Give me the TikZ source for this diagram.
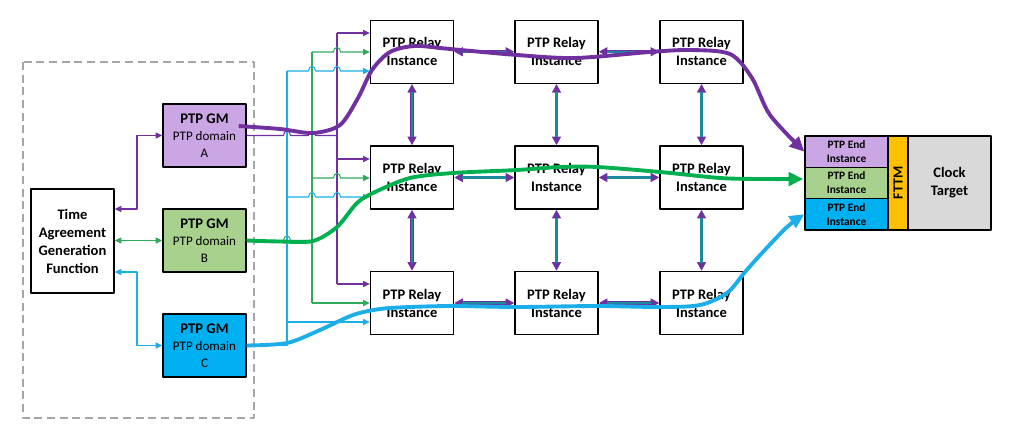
\documentclass[tikz,border=0pt]{standalone}
\usepackage{fontspec}
\setmainfont{Carlito}
\usetikzlibrary{arrows.meta,calc}
\definecolor{ppl}{HTML}{7030A0}
\definecolor{grn}{HTML}{00B050}
\definecolor{gthn}{HTML}{2EAA5C}
\definecolor{cyn}{HTML}{1BAEE8}
\definecolor{teal2}{HTML}{1B8A9C}
\definecolor{lpur}{HTML}{CBA6E4}
\definecolor{lgrn}{HTML}{A9D18E}
\definecolor{blu}{HTML}{00B0F0}
\definecolor{orng}{HTML}{FFC000}
\definecolor{lgry}{HTML}{D9D9D9}
\definecolor{dgry}{HTML}{A6A6A6}
\newcommand\hh[2]{-- ({#1-3.5},#2) .. controls ({#1-3.5},{#2-6}) and ({#1+3.5},{#2-6}) .. ({#1+3.5},#2)}
\tikzset{
  box/.style={draw=black, line width=1pt, inner sep=0pt, align=center},
  relay/.style={box, fill=white, minimum width=62.25pt, minimum height=47.25pt, font=\bfseries\fontsize{10.9}{13.5}\selectfont},
  gm/.style={box, minimum width=62.25pt, minimum height=47.25pt, font=\fontsize{9.8}{12.75}\selectfont},
  endc/.style={box, minimum width=62.25pt, minimum height=23.5pt, font=\bfseries\fontsize{8.5}{10.5}\selectfont},
  pthin/.style={draw=ppl, line width=0.8pt},
  gthin/.style={draw=gthn, line width=0.8pt},
  cthin/.style={draw=cyn, line width=0.8pt},
  plink/.style={draw=ppl, line width=2.4pt, {Triangle[length=6.5pt,width=6.5pt]}-{Triangle[length=6.5pt,width=6.5pt]}},
  tlink/.style={draw=teal2, line width=1.8pt, shorten <=6pt, shorten >=6pt},
  thick/.style={line width=2.9pt, -{Triangle[length=11pt,width=10pt]}},
  >={Triangle[length=5pt,width=4.5pt]}
}
\newcommand\lnk[2]{\draw[plink] (#1) -- (#2); \draw[tlink] (#1) -- (#2);}
\begin{document}
\begin{tikzpicture}[x=0.75pt, y=-0.75pt, line join=round]
\useasboundingbox (0,0) rectangle (1012,439);
% frame
\draw[dgry, line width=1.1pt, dash pattern=on 6pt off 3.5pt] (23,62) rectangle (254,418);
% left nodes
\node[box, minimum width=62.25pt, minimum height=78pt, font=\bfseries\fontsize{10.9}{13.5}\selectfont] (tagf) at (72.5,241) {Time\\Agreement\\Generation\\Function};
\node[gm, fill=lpur] (gmA) at (204.5,135.5) {{\bfseries\fontsize{11}{12.75}\selectfont PTP GM}\\PTP domain\\A};
\node[gm, fill=lgrn] (gmB) at (204.5,240.5) {{\bfseries\fontsize{11}{12.75}\selectfont PTP GM}\\PTP domain\\B};
\node[gm, fill=blu] (gmC) at (204.5,345.5) {{\bfseries\fontsize{11}{12.75}\selectfont PTP GM}\\PTP domain\\C};
% relays
\foreach \c/\x in {1/412,2/556.5,3/701.5}{
  \foreach \r/\y in {1/51.75,2/177.5,3/303}{
    \node[relay] (r\r\c) at (\x,\y) {PTP Relay\\Instance};
  }
}
% end box
\node[endc, fill=lpur] (endA) at (846.5,151.67) {PTP End\\Instance};
\node[endc, fill=lgrn] (endB) at (846.5,183) {PTP End\\Instance};
\node[endc, fill=blu] (endC) at (846.5,214.33) {PTP End\\Instance};
\node[box, fill=orng, minimum width=15pt, minimum height=70.5pt] (fttm) at (898,183) {};
\node[font=\bfseries\fontsize{10.5}{12}\selectfont, rotate=90, inner sep=0pt] (fttmt) at (fttm.center) {FTTM};
\node[box, fill=lgry, minimum width=62.25pt, minimum height=70.5pt, font=\bfseries\fontsize{10.9}{13.5}\selectfont] (clock) at (949.5,183) {Clock\\Target};
% TAGF connectors
\coordinate (ta) at (114,209);
\coordinate (tc) at (114,272);
\draw[pthin,<->] (tagf.east |- ta) -- (137,209) |- (gmA.west);
\draw[gthin,<->] (tagf.east |- gmB.west) -- (gmB.west);
\draw[cthin,<->] (tagf.east |- tc) -- (137,272) |- (gmC.west);
% bus coordinates
\coordinate (pv1) at (337,33);  \coordinate (pv2) at (337,159); \coordinate (pv3) at (337,284);
\coordinate (gv1) at (312,52);  \coordinate (gv2) at (312,178); \coordinate (gv3) at (312,303);
\coordinate (cv1) at (287,71);  \coordinate (cv2) at (287,197); \coordinate (cv3) at (287,322);
% purple bus
\draw[pthin] (gmA.east) \hh{287}{135.5} \hh{312}{135.5} -- (337,135.5);
\draw[pthin] (pv1) -- (pv3);
\draw[pthin,->] (pv1) -- (pv1 -| r11.west);
\draw[pthin,->] (pv2) -- (pv2 -| r21.west);
\draw[pthin,->] (pv3) -- (pv3 -| r31.west);
% green bus
\draw[gthin] (gmB.east) \hh{287}{240.5} -- (312,240.5);
\draw[gthin] (gv1) -- (gv3);
\draw[gthin,->] (gv1) \hh{337}{52} -- (gv1 -| r11.west);
\draw[gthin,->] (gv2) \hh{337}{178} -- (gv2 -| r21.west);
\draw[gthin,->] (gv3) -- (gv3 -| r31.west);
% cyan bus
\draw[cthin] (gmC.east) -- (287,345.5) -- (cv1);
\draw[cthin,->] (cv1) \hh{312}{71} \hh{337}{71} -- (cv1 -| r11.west);
\draw[cthin,->] (cv2) \hh{312}{197} \hh{337}{197} -- (cv2 -| r21.west);
\draw[cthin,->] (cv3) -- (cv3 -| r31.west);
% relay links
\foreach \c in {1,2,3}{
  \lnk{r1\c.south}{r2\c.north}
  \lnk{r2\c.south}{r3\c.north}
}
\foreach \r in {1,2,3}{
  \lnk{r\r1.east}{r\r2.west}
  \lnk{r\r2.east}{r\r3.west}
}
% thick paths
\coordinate (pa0) at ($(gmA.east)+(-8,-9.5)$);
\coordinate (gb1) at ($(endB.west)+(-1,-4)$);
\draw[thick, draw=ppl] plot[smooth, tension=0.5] coordinates {(pa0) (280,129) (313,133) (340,125) (358,98) (372,70) (390,52) (415,46) (450,49) (517,55) (575,58) (650,52) (690,50) (730,54) (752,78) (770,115) (endA.west)};
\draw[thick, draw=grn] plot[smooth, tension=0.5] coordinates {(gmB.east) (280,241.5) (313,241) (337,227) (357,203) (375,192) (410,178) (453,173) (517,170) (560,167) (597,167) (660,172) (720,178) (760,179) (gb1)};
\draw[thick, draw=cyn] plot[smooth, tension=0.5] coordinates {(gmC.east) (287,343) (320,330) (353,315) (380,309) (410,307) (453,306) (517,307) (597,306) (660,307) (700,305) (727,293) (745,272) (762,253) (787,227) (endC.west)};
\end{tikzpicture}
\end{document}
